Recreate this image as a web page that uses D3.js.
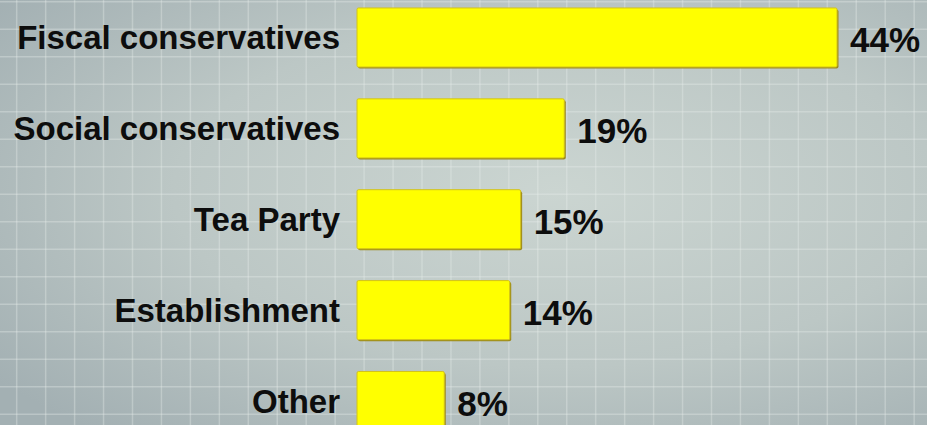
<!DOCTYPE html>
<html>
<head>
<meta charset="utf-8">
<script src="https://cdn.jsdelivr.net/npm/d3@7"></script>
<style>
  body { margin: 0; overflow: hidden; }
  svg { display: block; }
</style>
</head>
<body>
<script>
var categories = ["Fiscal conservatives", "Social conservatives", "Tea Party", "Establishment", "Other"];
var values = [44, 19, 15, 14, 8];
var valueLabels = ["44%", "19%", "15%", "14%", "8%"];

var w = 927;
var h = 425;
var barLeft = 357;

var svg = d3.select("body")
            .append("svg")
            .attr("width", w)
            .attr("height", h);

var defs = svg.append("defs");
var bg = defs.append("radialGradient")
             .attr("id", "bg")
             .attr("cx", "60%").attr("cy", "45%").attr("r", "75%");
bg.append("stop").attr("offset", "0%").attr("stop-color", "#cbd5d1");
bg.append("stop").attr("offset", "55%").attr("stop-color", "#bcc7c5");
bg.append("stop").attr("offset", "100%").attr("stop-color", "#a3b0b3");

svg.append("rect")
   .attr("width", w)
   .attr("height", h)
   .attr("fill", "url(#bg)");

// background grid
var grid = svg.append("g").attr("stroke", "#e8eeec").attr("stroke-opacity", 0.35).attr("stroke-width", 1.5);
grid.selectAll("line.v")
    .data(d3.range(16.7, w, 28.95))
    .enter()
    .append("line")
    .attr("x1", function(d){ return d; })
    .attr("x2", function(d){ return d; })
    .attr("y1", 0)
    .attr("y2", h);
grid.selectAll("line.hz")
    .data(d3.range(1.7, h, 27.5))
    .enter()
    .append("line")
    .attr("y1", function(d){ return d; })
    .attr("y2", function(d){ return d; })
    .attr("x1", 0)
    .attr("x2", w);

var x = d3.scaleLinear()
          .domain([0, 44])
          .range([barLeft, 837]);

var y = d3.scaleBand()
          .domain(categories)
          .range([-7.5, 446])
          .paddingInner(0.35)
          .paddingOuter(0.17);

var rows = svg.selectAll("g.row")
              .data(categories)
              .enter()
              .append("g")
              .attr("class", "row");

// shadow under bars
rows.append("rect")
    .attr("x", barLeft + 1)
    .attr("y", function(d){ return y(d) + 1.5; })
    .attr("width", function(d, i){ return x(values[i]) - barLeft + 0.5; })
    .attr("height", y.bandwidth())
    .attr("rx", 2)
    .attr("fill", "#9c8a1c");

rows.append("rect")
    .attr("x", barLeft)
    .attr("y", function(d){ return y(d); })
    .attr("width", function(d, i){ return x(values[i]) - barLeft; })
    .attr("height", y.bandwidth())
    .attr("rx", 1.5)
    .attr("fill", "#ffff00")
    .attr("stroke", "#d2c21a")
    .attr("stroke-width", 1);

rows.append("text")
    .text(function(d){ return d; })
    .attr("x", 340)
    .attr("y", function(d){ return y(d) + y.bandwidth() / 2 + 11.5; })
    .attr("text-anchor", "end")
    .attr("font-family", "Liberation Sans")
    .attr("font-weight", "bold")
    .attr("font-size", 33)
    .attr("fill", "#0d0d0d");

rows.append("text")
    .text(function(d, i){ return valueLabels[i]; })
    .attr("x", function(d, i){ return x(values[i]) + 13; })
    .attr("y", function(d){ return y(d) + y.bandwidth() / 2 + 15; })
    .attr("font-family", "Liberation Sans")
    .attr("font-weight", "bold")
    .attr("font-size", 35)
    .attr("fill", "#0d0d0d");
</script>
</body>
</html>
